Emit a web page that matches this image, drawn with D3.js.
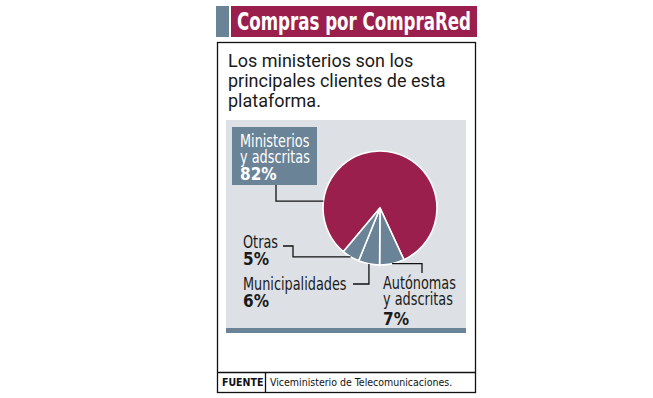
<!DOCTYPE html>
<html>
<head>
<meta charset="utf-8">
<script src="https://cdn.jsdelivr.net/npm/d3@7"></script>
<style>
  body { margin: 0; background: #fff; }
  svg { display: block; }
</style>
</head>
<body>
<div id="chart"></div>
<script>
// datos
const categories = ["Ministerios y adscritas", "Autónomas y adscritas", "Municipalidades", "Otras"];
const values = [82, 7, 6, 5];
const labelLines = [["Ministerios", "y adscritas"], ["Autónomas", "y adscritas"], ["Municipalidades"], ["Otras"]];
const title = "Compras por CompraRed";
const subtitleLines = ["Los ministerios son los", "principales clientes de esta", "plataforma."];
const sourceLabel = "FUENTE";
const sourceText = "Viceministerio de Telecomunicaciones.";

const W = 653, H = 398;
const MAROON = "#9b1f4c";
const SLATE = "#6b8396";
const BG = "#dde1e6";
const condensed = "'Liberation Sans Narrow', 'DejaVu Sans Condensed', 'Roboto', sans-serif";
const regular = "'Roboto', 'Liberation Sans', sans-serif";
const SQUEEZE = 0.84; // las etiquetas del original son de fuente condensada

const svg = d3.select("#chart").append("svg")
    .attr("width", W)
    .attr("height", H)
    .attr("viewBox", [0, 0, W, H]);

// barra de titulo
svg.append("rect").attr("x", 216).attr("y", 6).attr("width", 13).attr("height", 31).attr("fill", SLATE);
svg.append("rect").attr("x", 231).attr("y", 6).attr("width", 246).attr("height", 31).attr("fill", MAROON);
svg.append("text")
    .attr("x", 237).attr("y", 30)
    .attr("fill", "#fff")
    .attr("font-family", condensed)
    .attr("font-weight", "bold")
    .attr("font-size", 25)
    .attr("textLength", 234)
    .attr("lengthAdjust", "spacingAndGlyphs")
    .text(title);

// recuadro
svg.append("rect")
    .attr("x", 217.5).attr("y", 42.5).attr("width", 258).attr("height", 350)
    .attr("fill", "#fff").attr("stroke", "#111").attr("stroke-width", 1.3);

svg.append("g").selectAll("text")
    .data(subtitleLines)
    .join("text")
    .attr("x", 228)
    .attr("y", (d, i) => 67 + i * 20)
    .attr("fill", "#1a1a1a")
    .attr("font-family", regular)
    .attr("font-size", 18)
    .text(d => d);

// fondo del grafico
svg.append("rect").attr("x", 226).attr("y", 120).attr("width", 240).attr("height", 210).attr("fill", BG);
svg.append("rect").attr("x", 226).attr("y", 328).attr("width", 240).attr("height", 5).attr("fill", SLATE);

// pastel
const cx = 380, cy = 208, R = 57;
const start = 220 * Math.PI / 180;
const pie = d3.pie().sort(null).value(d => d).startAngle(start).endAngle(start + 2 * Math.PI);
const arcs = pie(values);
const arc = d3.arc().innerRadius(0).outerRadius(R);

const pieG = svg.append("g").attr("transform", `translate(${cx},${cy})`);
pieG.selectAll("path")
    .data(arcs)
    .join("path")
    .attr("d", arc)
    .attr("fill", (d, i) => i === 0 ? MAROON : SLATE)
    .attr("stroke", "#fff")
    .attr("stroke-width", 1.6);

// punto sobre el borde del pastel
function edgePoint(angle) {
    return [cx + R * Math.sin(angle), cy - R * Math.cos(angle)];
}
const midAngle = d => (d.startAngle + d.endAngle) / 2;

// etiquetas
const fontSize = 17;
const lineH = 16;
const labelPos = [
    { x: 240, y: 147, color: "#fff" },
    { x: 383, y: 289, color: "#1a1a1a", pctGap: 20 },
    { x: 243, y: 290, color: "#1a1a1a" },
    { x: 243, y: 248, color: "#1a1a1a" },
];

// caja de Ministerios
svg.append("rect").attr("x", 232).attr("y", 127).attr("width", 85).attr("height", 58).attr("fill", SLATE);

const labels = svg.append("g");
categories.forEach((c, i) => {
    const p = labelPos[i];
    labelLines[i].forEach((line, j) => {
        const t = labels.append("text")
            .attr("x", p.x)
            .attr("y", p.y + j * lineH)
            .attr("font-family", condensed)
            .attr("font-size", fontSize)
            .attr("fill", p.color)
            .text(line);
        const len = t.node().getComputedTextLength();
        t.attr("textLength", len * SQUEEZE).attr("lengthAdjust", "spacingAndGlyphs");
    });
    const gap = p.pctGap || 17;
    labels.append("text")
        .attr("x", p.x)
        .attr("y", p.y + (labelLines[i].length - 1) * lineH + gap)
        .attr("font-family", condensed)
        .attr("font-size", fontSize)
        .attr("font-weight", "bold")
        .attr("fill", p.color)
        .text(values[i] + "%");
});

// lineas guia
const eMin = edgePoint(277 * Math.PI / 180);
const eAut = edgePoint(midAngle(arcs[1]));
const eMun = edgePoint(midAngle(arcs[2]));
const eOtr = edgePoint(midAngle(arcs[3]));
const leaders = [
    [[276, 185], [276, eMin[1]], eMin],
    [eAut, [422, eAut[1]], [422, 273]],
    [[353, 284], [eMun[0], 284], eMun],
    [[283, 246], [293, 246], [293, eOtr[1]], eOtr],
];
svg.append("g").selectAll("path")
    .data(leaders)
    .join("path")
    .attr("d", d3.line())
    .attr("fill", "none")
    .attr("stroke", "#111")
    .attr("stroke-width", 1.3);

// fuente
svg.append("line").attr("x1", 217.5).attr("x2", 475.5).attr("y1", 372.5).attr("y2", 372.5)
    .attr("stroke", "#111").attr("stroke-width", 1.3);
svg.append("line").attr("x1", 265.5).attr("x2", 265.5).attr("y1", 372.5).attr("y2", 392.5)
    .attr("stroke", "#111").attr("stroke-width", 1.3);
svg.append("text")
    .attr("x", 222).attr("y", 386)
    .attr("font-family", condensed).attr("font-weight", "bold").attr("font-size", 10.5)
    .attr("fill", "#111")
    .text(sourceLabel);
svg.append("text")
    .attr("x", 270).attr("y", 386)
    .attr("font-family", condensed).attr("font-size", 10.5)
    .attr("fill", "#111")
    .text(sourceText);
</script>
</body>
</html>
